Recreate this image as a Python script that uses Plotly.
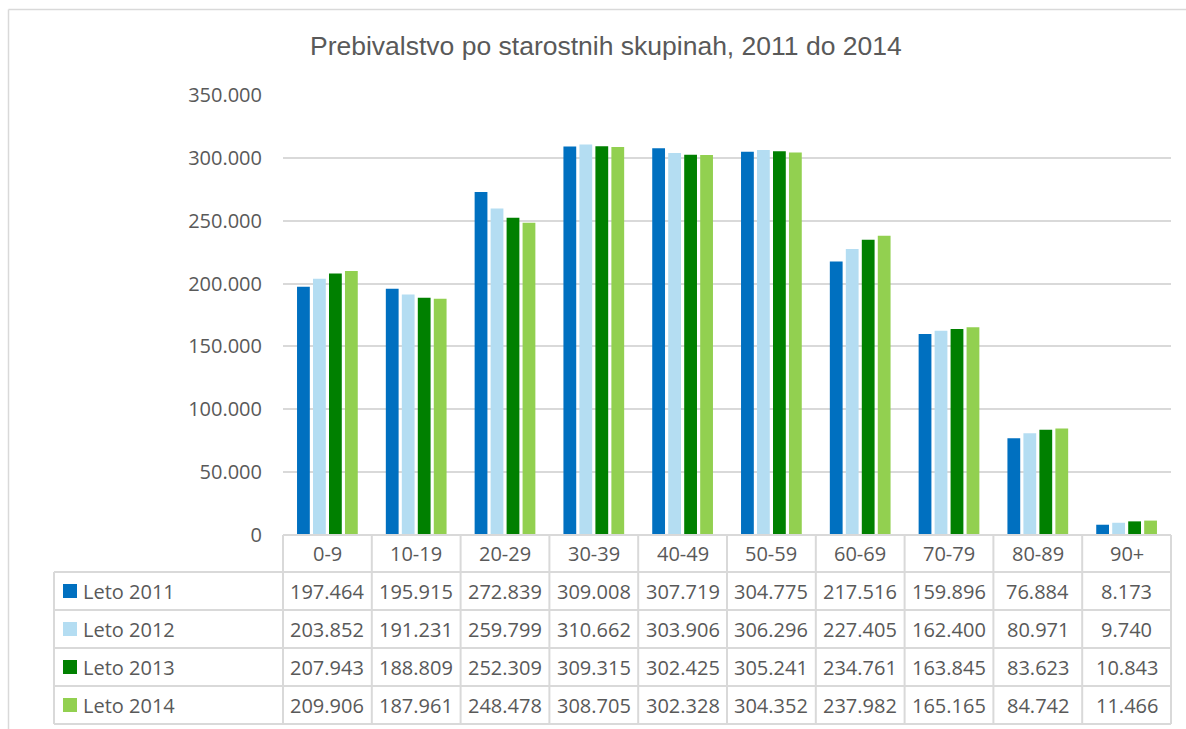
import plotly.graph_objects as go

# ---------------- data ----------------
categories = ["0-9", "10-19", "20-29", "30-39", "40-49", "50-59", "60-69", "70-79", "80-89", "90+"]
series_names = ["Leto 2011", "Leto 2012", "Leto 2013", "Leto 2014"]
leto_2011 = [197464, 195915, 272839, 309008, 307719, 304775, 217516, 159896, 76884, 8173]
leto_2012 = [203852, 191231, 259799, 310662, 303906, 306296, 227405, 162400, 80971, 9740]
leto_2013 = [207943, 188809, 252309, 309315, 302425, 305241, 234761, 163845, 83623, 10843]
leto_2014 = [209906, 187961, 248478, 308705, 302328, 304352, 237982, 165165, 84742, 11466]
series_values = [leto_2011, leto_2012, leto_2013, leto_2014]
colors = ["#0070C0", "#B4DDF2", "#008000", "#92D050"]
title_text = "Prebivalstvo po starostnih skupinah, 2011 do 2014"

# ---------------- layout geometry (screen pixels) ----------------
W, H = 1186, 729
X0, X1 = 283, 1171           # plot area left/right
YTOP, YBOT = 95, 535         # plot area top (350.000) / bottom (0)
TABLE_LEFT = 54
ROW_EDGES = [535, 572, 610, 648, 686, 724]
GRID = "#D9D9D9"
TXT = "#595959"
FONT = "Open Sans"
FS = 20


def px_x(px):
    return (px - X0) / (X1 - X0)


def px_y(py):
    return (YBOT - py) / (YBOT - YTOP)


def fmt(v):
    return f"{v:,}".replace(",", ".")


fig = go.Figure()
for name, vals, col in zip(series_names, series_values, colors):
    fig.add_trace(go.Bar(name=name, x=categories, y=vals, marker=dict(color=col, line=dict(width=0))))

shapes = []
annotations = []

# outer chart border: only top and left edges are visible in the window
shapes.append(dict(type="line", xref="paper", yref="paper",
                   x0=px_x(8.5), x1=px_x(W), y0=px_y(9.5), y1=px_y(9.5),
                   line=dict(color=GRID, width=1.5), layer="below"))
shapes.append(dict(type="line", xref="paper", yref="paper",
                   x0=px_x(8.5), x1=px_x(8.5), y0=px_y(9.5), y1=px_y(H),
                   line=dict(color=GRID, width=1.5), layer="below"))

# table horizontal lines
for i, ry in enumerate(ROW_EDGES):
    left = X0 if i == 0 else TABLE_LEFT
    shapes.append(dict(type="line", xref="paper", yref="paper",
                       x0=px_x(left), x1=px_x(X1), y0=px_y(ry), y1=px_y(ry),
                       line=dict(color=GRID, width=2)))

# table vertical lines
n = len(categories)
colw = (X1 - X0) / n
for k in range(n + 1):
    xp = X0 + k * colw
    shapes.append(dict(type="line", xref="paper", yref="paper",
                       x0=px_x(xp), x1=px_x(xp), y0=px_y(ROW_EDGES[0]), y1=px_y(ROW_EDGES[-1]),
                       line=dict(color=GRID, width=2)))
shapes.append(dict(type="line", xref="paper", yref="paper",
                   x0=px_x(TABLE_LEFT), x1=px_x(TABLE_LEFT), y0=px_y(ROW_EDGES[1]), y1=px_y(ROW_EDGES[-1]),
                   line=dict(color=GRID, width=2)))

# category header
hy = (ROW_EDGES[0] + ROW_EDGES[1]) / 2
for c in categories:
    annotations.append(dict(x=c, y=px_y(hy), xref="x", yref="paper", text=c, showarrow=False,
                            xanchor="center", yanchor="middle", font=dict(family=FONT, size=FS, color=TXT)))

# data rows
for r, (name, vals, col) in enumerate(zip(series_names, series_values, colors)):
    cy = (ROW_EDGES[r + 1] + ROW_EDGES[r + 2]) / 2
    shapes.append(dict(type="rect", xref="paper", yref="paper",
                       x0=px_x(63), x1=px_x(77), y0=px_y(cy - 7), y1=px_y(cy + 7),
                       fillcolor=col, line=dict(width=0)))
    annotations.append(dict(x=px_x(81), y=px_y(cy), xref="paper", yref="paper", text=name,
                            showarrow=False, xanchor="left", yanchor="middle",
                            font=dict(family=FONT, size=FS, color=TXT)))
    for c, v in zip(categories, vals):
        annotations.append(dict(x=c, y=px_y(cy), xref="x", yref="paper", text=fmt(v),
                                showarrow=False, xanchor="center", yanchor="middle",
                                font=dict(family=FONT, size=FS, color=TXT)))

# title
annotations.append(dict(x=px_x(605.5), y=px_y(46), xref="paper", yref="paper", text=title_text,
                        showarrow=False, xanchor="center", yanchor="middle",
                        font=dict(family="Liberation Sans", size=26.5, color=TXT)))

fig.update_layout(
    width=W, height=H,
    margin=dict(l=X0, r=W - X1, t=YTOP, b=H - YBOT, autoexpand=False),
    paper_bgcolor="white", plot_bgcolor="white",
    separators=",.",
    barmode="group", bargap=0.28, bargroupgap=0.2,
    showlegend=False,
    shapes=shapes, annotations=annotations,
    xaxis=dict(showticklabels=False, ticks="", showgrid=False, zeroline=False, showline=False),
    yaxis=dict(range=[0, 350000], dtick=50000, tickformat=",d", showgrid=True, gridcolor=GRID,
               gridwidth=2, zeroline=False, showline=False, ticks="", ticklabelstandoff=20,
               tickfont=dict(family=FONT, size=FS, color=TXT)),
)

fig.write_html(
    "out.html",
    config={"displayModeBar": False},
    post_script="document.body.style.margin='0';document.body.style.overflow='hidden';",
)
